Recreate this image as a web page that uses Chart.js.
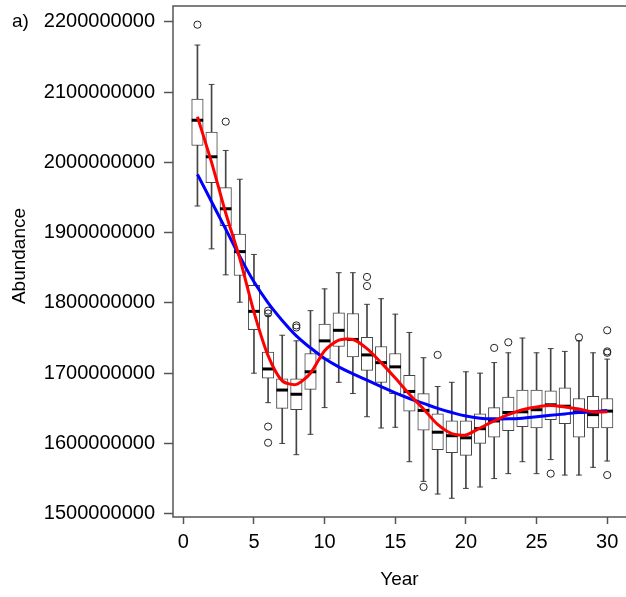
<!DOCTYPE html>
<html>
<head>
<meta charset="utf-8">
<script src="https://cdn.jsdelivr.net/npm/chart.js@4.4.1/dist/chart.umd.min.js"></script>
<style>
  html, body { margin: 0; padding: 0; background: #fff; overflow: hidden; }
  canvas { display: block; }
</style>
</head>
<body>
<canvas id="abundanceChart" width="626" height="597"></canvas>
<script>
// all abundance values are in millions
var UNIT = 1e6;

var years = [1, 2, 3, 4, 5, 6, 7, 8, 9, 10, 11, 12, 13, 14, 15,
             16, 17, 18, 19, 20, 21, 22, 23, 24, 25, 26, 27, 28, 29, 30];

var upperWhisker = [2167, 2111, 2017, 1976, 1869, 1782, 1754, 1746, 1789, 1820, 1843, 1843, 1798, 1806, 1784,
                    1758, 1722, 1681, 1687, 1702, 1700, 1715, 1729, 1750, 1729, 1735, 1731, 1746, 1729, 1720];
var upperQuartile = [2090, 2043, 1964, 1898, 1825, 1730, 1692, 1692, 1728, 1770, 1786, 1785, 1751, 1738, 1728,
                     1697, 1671, 1642, 1632, 1632, 1642, 1651, 1666, 1676, 1676, 1675, 1679, 1664, 1667, 1664];
var medians = [2060, 2008, 1934, 1873, 1788, 1706, 1676, 1670, 1702, 1746, 1761, 1748, 1726, 1715, 1709,
               1674, 1647, 1616, 1611, 1608, 1621, 1632, 1644, 1645, 1648, 1655, 1653, 1645, 1641, 1646];
var lowerQuartile = [2024, 1971, 1910, 1839, 1762, 1693, 1650, 1648, 1677, 1720, 1738, 1723, 1704, 1687, 1671,
                     1646, 1619, 1591, 1587, 1583, 1600, 1609, 1618, 1624, 1622, 1634, 1628, 1609, 1622, 1622];
var lowerWhisker = [1938, 1877, 1840, 1801, 1700, 1658, 1600, 1584, 1613, 1651, 1687, 1671, 1638, 1622, 1623,
                    1574, 1546, 1528, 1522, 1536, 1538, 1550, 1557, 1574, 1557, 1577, 1555, 1555, 1566, 1575];

var outlierYears = [1, 3, 6, 6, 6, 6, 8, 8, 13, 13, 17, 18, 22, 23, 26, 28, 30, 30, 30, 30];
var outlierValues = [2196, 2058, 1789, 1785, 1624, 1601, 1768, 1765, 1837, 1824,
                     1538, 1726, 1736, 1744, 1557, 1751, 1761, 1731, 1729, 1555];

var redFit = [2065, 2000, 1928, 1863, 1787, 1725, 1689, 1684, 1700, 1732, 1747, 1748, 1735, 1715, 1693,
              1670, 1649, 1627, 1614, 1612, 1622, 1632, 1641, 1648, 1652, 1654, 1652, 1649, 1645, 1645];
var blueFit = [1983, 1944, 1905, 1866, 1830, 1800, 1775, 1753, 1736, 1721, 1709, 1699, 1690, 1681, 1672,
               1664, 1657, 1650, 1644, 1639, 1636, 1635, 1635, 1636, 1638, 1640, 1642, 1644, 1645, 1647];

var xTicks = [0, 5, 10, 15, 20, 25, 30];
var yTicks = [1500, 1600, 1700, 1800, 1900, 2000, 2100, 2200];

var FONT = 'Liberation Sans, Arial, sans-serif';
var BOX_COLOR = '#444';
var AXIS_COLOR = '#555';

function toPoints(values) {
	return years.map(function(year, i) {
		return {x: year, y: values[i] * UNIT};
	});
}

function toRanges(lows, highs) {
	return years.map(function(year, i) {
		return {x: year, y: [lows[i] * UNIT, highs[i] * UNIT]};
	});
}

var capPoints = toPoints(upperWhisker).concat(toPoints(lowerWhisker));
var outlierPoints = outlierYears.map(function(year, i) {
	return {x: year, y: outlierValues[i] * UNIT};
});

// top / left / bottom frame, the panel letter and the y title
var framePlugin = {
	id: 'frame',
	beforeDatasetsDraw: function(chart) {
		var area = chart.chartArea;
		var ctx = chart.ctx;
		ctx.save();
		ctx.strokeStyle = AXIS_COLOR;
		ctx.lineWidth = 1.5;
		ctx.beginPath();
		ctx.moveTo(area.right + 2, area.top);
		ctx.lineTo(area.left, area.top);
		ctx.lineTo(area.left, area.bottom);
		ctx.lineTo(area.right + 2, area.bottom);
		ctx.stroke();

		ctx.fillStyle = '#000';
		ctx.font = '19px ' + FONT;
		ctx.textBaseline = 'middle';
		ctx.textAlign = 'left';
		ctx.fillText('a)', 12, chart.scales.y.getPixelForValue(yTicks[yTicks.length - 1] * UNIT));

		ctx.translate(20, 256);
		ctx.rotate(-Math.PI / 2);
		ctx.textAlign = 'center';
		ctx.fillText('Abundance', 0, 0);
		ctx.restore();
	}
};

new Chart(document.getElementById('abundanceChart'), {
	type: 'bar',
	data: {
		datasets: [
			{
				type: 'line', data: toPoints(redFit), borderColor: '#ff0000', borderWidth: 3,
				pointRadius: 0, tension: 0.25, fill: false, order: 0
			},
			{
				type: 'line', data: toPoints(blueFit), borderColor: '#0000ff', borderWidth: 3,
				pointRadius: 0, tension: 0.4, fill: false, order: 0
			},
			{
				type: 'scatter', data: outlierPoints, pointStyle: 'circle', pointRadius: 3.6,
				borderColor: '#222', backgroundColor: 'rgba(0,0,0,0)', borderWidth: 1, order: 1
			},
			{
				type: 'scatter', data: toPoints(medians), pointStyle: 'line', pointRadius: 5.75,
				borderColor: '#000', borderWidth: 3, order: 2
			},
			{
				type: 'bar', data: toRanges(lowerQuartile, upperQuartile), backgroundColor: '#fff',
				borderColor: BOX_COLOR, borderWidth: 1, borderSkipped: false, barThickness: 11.5,
				grouped: false, order: 3
			},
			{
				type: 'scatter', data: capPoints, pointStyle: 'line', pointRadius: 2.9,
				borderColor: BOX_COLOR, borderWidth: 1, order: 4
			},
			{
				type: 'bar', data: toRanges(lowerWhisker, upperWhisker), backgroundColor: BOX_COLOR,
				borderWidth: 0, barThickness: 1, grouped: false, order: 5
			}
		]
	},
	options: {
		responsive: false,
		animation: false,
		devicePixelRatio: 1,
		events: [],
		layout: {autoPadding: false, padding: {top: 6, left: 0, right: 0, bottom: 0}},
		plugins: {legend: {display: false}, tooltip: {enabled: false}},
		scales: {
			x: {
				type: 'linear', min: -0.73, max: 31.33, offset: false,
				afterBuildTicks: function(scale) {
					scale.ticks = xTicks.map(function(v) { return {value: v}; });
				},
				afterFit: function(scale) {
					scale.height = 80;
					scale.paddingLeft = 0;
					scale.paddingRight = 0;
				},
				grid: {display: true, offset: false, drawOnChartArea: false, drawTicks: true,
					tickLength: 7, tickColor: AXIS_COLOR, tickWidth: 1.5},
				border: {display: false},
				ticks: {font: {family: FONT, size: 20}, color: '#000', padding: 6,
					autoSkip: false, maxRotation: 0},
				title: {display: true, text: 'Year', color: '#000',
					font: {family: FONT, size: 19}, padding: {top: 0, bottom: 6}}
			},
			y: {
				type: 'linear', min: 1495.3 * UNIT, max: 2222.6 * UNIT,
				afterBuildTicks: function(scale) {
					scale.ticks = yTicks.map(function(v) { return {value: v * UNIT}; });
				},
				afterFit: function(scale) {
					scale.width = 173;
					scale.paddingTop = 0;
					scale.paddingBottom = 0;
				},
				grid: {display: true, drawOnChartArea: false, drawTicks: true,
					tickLength: 9, tickColor: AXIS_COLOR, tickWidth: 1.5},
				border: {display: false},
				ticks: {font: {family: FONT, size: 20}, color: '#000', padding: 9, autoSkip: false,
					callback: function(v) { return v.toFixed(0); }},
				title: {display: false}
			}
		}
	},
	plugins: [framePlugin]
});
</script>
</body>
</html>
